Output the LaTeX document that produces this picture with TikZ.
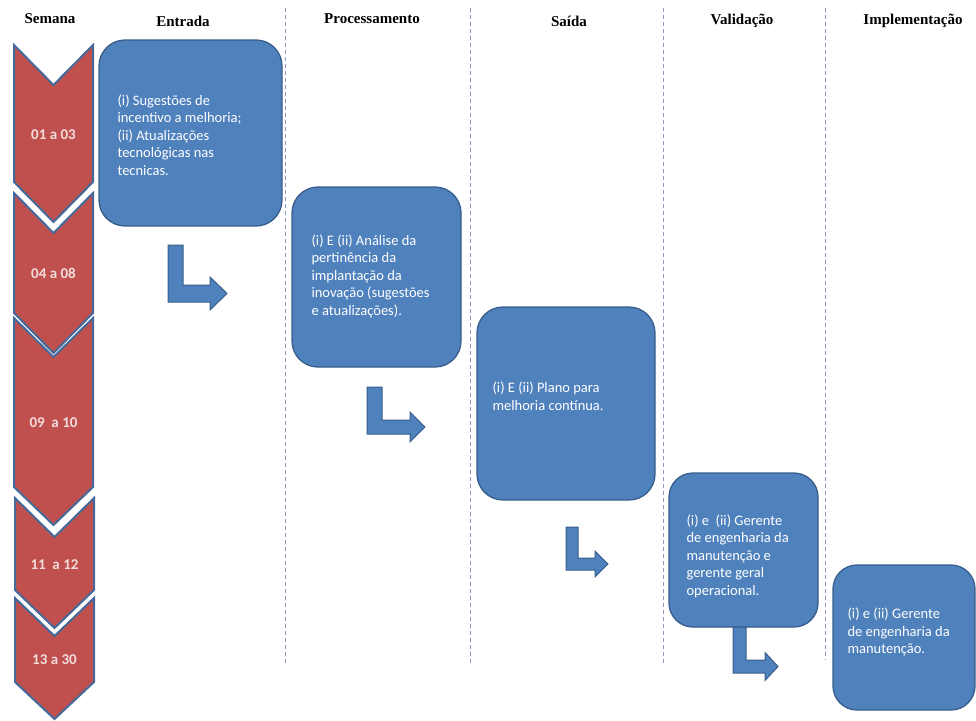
\documentclass[tikz,border=0pt]{standalone}
\usepackage{fontspec}
\setmainfont{Liberation Serif}
\newfontfamily\calib{Carlito}
\definecolor{chevred}{HTML}{C0504D}
\definecolor{chevedge}{HTML}{45699A}
\definecolor{chevtext}{HTML}{F2DCDB}
\definecolor{boxblue}{HTML}{4F81BD}
\definecolor{boxedge}{HTML}{385D8A}
\definecolor{sepline}{HTML}{8A9AB8}
% bent (L-shaped) arrow: x0, y0, stem width, bottom, bar thickness, head base x, head half height, tip x
\newcommand{\bentarrow}[8]{%
  \draw[barrow] (#1,#2) -- ({#1+#3},#2) -- ({#1+#3},{#4-#5}) -- (#6,{#4-#5}) -- (#6,{#4-#5/2-#7})
    -- (#8,{#4-#5/2}) -- (#6,{#4-#5/2+#7}) -- (#6,#4) -- (#1,#4) -- cycle;}
\begin{document}
\begin{tikzpicture}[x=1pt,y=-1pt,
  head/.style={font=\bfseries\fontsize{15}{18}\selectfont, inner sep=0pt},
  chev/.style={fill=chevred, draw=chevedge, line width=2pt, line join=miter},
  chevlabel/.style={font=\calib\bfseries\fontsize{15}{18}\selectfont, text=chevtext, inner sep=0pt},
  box/.style={fill=boxblue, draw=boxedge, line width=1.3pt, rounded corners=26pt, inner sep=0pt},
  boxtext/.style={font=\calib\fontsize{14.5}{17.5}\selectfont, text=white, align=left, inner sep=0pt, anchor=west},
  barrow/.style={fill=boxblue, draw=boxedge, line width=1pt, line join=miter},
  divider/.style={draw=sepline, line width=0.8pt, dash pattern=on 4pt off 3pt}]
\useasboundingbox (0,0) rectangle (976,720);

% column separators
\draw[divider] (285,8) -- (285,665);
\draw[divider] (470,8) -- (470,665);
\draw[divider] (663,8) -- (663,665);
\draw[divider] (825,8) -- (825,660);

% column headings
\node[head] (hsem) at (50,19) {Semana};
\node[head] (hent) at (183,21) {Entrada};
\node[head] (hpro) at (372,19) {Processamento};
\node[head] (hsai) at (569,21) {Saída};
\node[head] (hval) at (742,21) {Validação};
\node[head] (himp) at (913,21) {Implementação};

% week chevrons
\draw[chev] (14,45) -- (53.5,85) -- (93,45) -- (93,182) -- (53.5,222) -- (14,182) -- cycle;
\node[chevlabel] (w1) at (53.5,135) {01 a 03};
\draw[chev] (14,193) -- (53.5,233) -- (93,193) -- (93,313) -- (53.5,353) -- (14,313) -- cycle;
\node[chevlabel] (w2) at (53.5,273) {04 a 08};
\draw[chev] (14,318) -- (53.5,357) -- (93,318) -- (93,487) -- (53.5,525) -- (14,487) -- cycle;
\node[chevlabel] (w3) at (53.5,423) {09\ \ a 10};
\draw[chev] (15,498) -- (54.5,537) -- (94,498) -- (94,590) -- (54.5,628) -- (15,590) -- cycle;
\node[chevlabel] (w4) at (54.5,565) {11\ \ a 12};
\draw[chev] (15,598) -- (54.5,636) -- (94,598) -- (94,682) -- (54.5,719) -- (15,682) -- cycle;
\node[chevlabel] (w5) at (54.5,660) {13 a 30};

% process boxes
\node[box, minimum width=183pt, minimum height=186pt] (b1) at (190.5,133) {};
\node[boxtext] (t1) at ([xshift=19pt]b1.west |- 0,135) {(i) Sugestões de\\incentivo a melhoria;\\(ii) Atualizações\\tecnológicas nas\\tecnicas.};

\node[box, minimum width=169pt, minimum height=180pt] (b2) at (376.5,277) {};
\node[boxtext] (t2) at ([xshift=20pt]b2.west |- 0,276) {(i) E (ii) Análise da\\pertinência da\\implantação da\\inovação (sugestões\\e atualizações).};

\node[box, minimum width=178pt, minimum height=193pt] (b3) at (566,403.5) {};
\node[boxtext] (t3) at ([xshift=16pt]b3.west |- 0,396) {(i) E (ii) Plano para\\melhoria contínua.};

\node[box, rounded corners=24pt, minimum width=149pt, minimum height=154pt] (b4) at (743.5,550) {};
\node[boxtext] (t4) at ([xshift=18pt]b4.west |- 0,556) {(i) e\ \ (ii) Gerente\\de engenharia da\\manutenção e\\gerente geral\\operacional.};

\node[box, rounded corners=24pt, minimum width=142pt, minimum height=145pt] (b5) at (904,637.5) {};
\node[boxtext] (t5) at ([xshift=15pt]b5.west |- 0,632) {(i) e (ii) Gerente\\de engenharia da\\manutenção.};

% step arrows between the stages
\bentarrow{168}{245}{15}{302}{17}{210}{16.5}{227}
\bentarrow{367}{387}{15}{434}{14}{410}{15}{425}
\bentarrow{566}{527}{12}{570}{12}{595}{13}{608}
\bentarrow{733}{627}{13}{673}{13}{765}{14}{778}
\end{tikzpicture}
\end{document}
